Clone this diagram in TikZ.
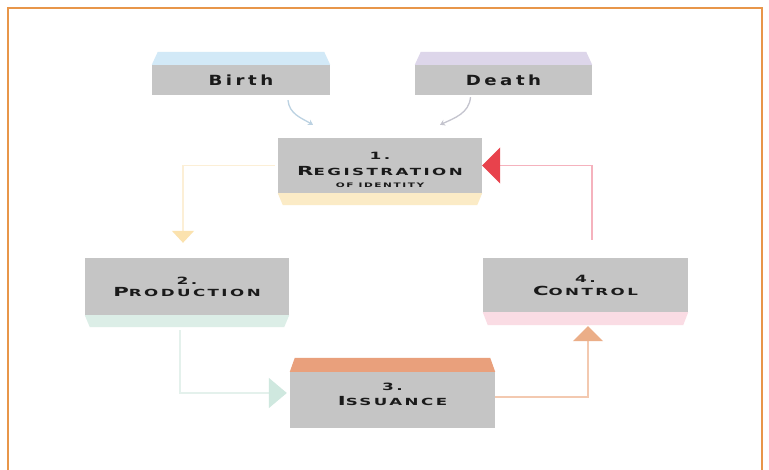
\documentclass[tikz,border=0pt]{standalone}
\usepackage{fontspec}
\setmainfont{DejaVu Sans}
\newfontfamily\cpfont{DejaVu Sans Bold}[FakeStretch=1.7, LetterSpace=25]
\newfontfamily\bdfont{DejaVu Sans Bold}[FakeStretch=1.3, LetterSpace=25]
\usetikzlibrary{arrows.meta,calc}
\definecolor{boxgray}{HTML}{C5C5C5}
\definecolor{txt}{HTML}{1A1A1A}
\definecolor{framec}{HTML}{E8964A}
\definecolor{sblue}{HTML}{D2E9F7}
\definecolor{slav}{HTML}{DDD6EA}
\definecolor{syel}{HTML}{FBEBC6}
\definecolor{sgreen}{HTML}{DCEEE7}
\definecolor{spink}{HTML}{FADCE4}
\definecolor{sorange}{HTML}{E9A07C}
\definecolor{lyel}{HTML}{FCEFD6}
\definecolor{ayel}{HTML}{FBE2AE}
\definecolor{lgreen}{HTML}{E4F1EC}
\definecolor{agreen}{HTML}{CFE8DF}
\definecolor{lorange}{HTML}{F3C9B0}
\definecolor{aorange}{HTML}{EBAE88}
\definecolor{lpink}{HTML}{F5B2BD}
\definecolor{ared}{HTML}{E8424C}
\definecolor{cblue}{HTML}{BCD2E2}
\definecolor{clav}{HTML}{C4C4CE}
\newcommand\bigc[1]{{\fontsize{12.5}{14}\selectfont #1}}
\newcommand\smc[1]{{\fontsize{9.8}{14}\selectfont #1}}
\newcommand\numl[1]{{\fontsize{10}{12}\selectfont #1}}
\tikzset{
  box/.style={fill=boxgray, inner sep=0pt, align=center, font=\cpfont, text=txt},
  conn/.style={line width=1.3pt},
}
\begin{document}
\begin{tikzpicture}[x=1pt,y=-1pt]
\useasboundingbox (0,0) rectangle (769,470);
\fill[white] (0,0) rectangle (769,470);
\draw[framec, line width=2pt] (8,472) -- (8,8) -- (762,8) -- (762,472);

% boxes
\node[box, minimum width=178pt, minimum height=30pt] (birth) at (241,80) {\bdfont\fontsize{14}{15}\selectfont Birth};
\node[box, minimum width=177pt, minimum height=30pt] (death) at (503.5,80) {\bdfont\fontsize{14}{15}\selectfont Death};
\node[box, minimum width=204pt, minimum height=55pt] (reg) at (380,165.5) {\numl{\strut}\\[-4pt]\numl{1.}\\[4pt]\bigc{R}\smc{EGISTRATION}\\[0pt]{\fontsize{6.2}{8}\selectfont OF IDENTITY}};
\node[box, minimum width=204pt, minimum height=57pt] (prod) at (187,286.5) {\numl{2.}\\\bigc{P}\smc{RODUCTION}};
\node[box, minimum width=205pt, minimum height=54pt] (ctrl) at (585.5,285) {\numl{4.}\\[1pt]\bigc{C}\smc{ONTROL}};
\node[box, minimum width=205pt, minimum height=56pt] (iss) at (392.5,400) {\numl{3.}\\[3pt]\bigc{I}\smc{SSUANCE}\\[-4pt]\strut};

% strips
\fill[sblue] (birth.north west) -- ($(birth.north west)+(6,-13)$) -- ($(birth.north east)+(-6,-13)$) -- (birth.north east) -- cycle;
\fill[slav] (death.north west) -- ($(death.north west)+(6,-13)$) -- ($(death.north east)+(-6,-13)$) -- (death.north east) -- cycle;
\fill[sorange] (iss.north west) -- ($(iss.north west)+(5,-14)$) -- ($(iss.north east)+(-5,-14)$) -- (iss.north east) -- cycle;
\fill[syel] (reg.south west) -- ($(reg.south west)+(5,12)$) -- ($(reg.south east)+(-5,12)$) -- (reg.south east) -- cycle;
\fill[sgreen] (prod.south west) -- ($(prod.south west)+(5,12)$) -- ($(prod.south east)+(-5,12)$) -- (prod.south east) -- cycle;
\fill[spink] (ctrl.south west) -- ($(ctrl.south west)+(5,13)$) -- ($(ctrl.south east)+(-5,13)$) -- (ctrl.south east) -- cycle;

% connectors
\draw[conn, lyel, -{Triangle[width=22pt,length=12pt,color=ayel]}] ($(reg.west)+(-3,0)$) -| ($(prod.north)+(-4,-15)$);
\draw[conn, lgreen, -{Triangle[width=30pt,length=18pt,color=agreen]}] ($(prod.south)+(-7,15)$) |- ($(iss.west)+(-3,-7)$);
\draw[conn, lorange, -{Triangle[width=30pt,length=15pt,color=aorange]}] ($(iss.east)+(0,-3)$) -| ($(ctrl.south)+(2.5,14)$);
\draw[conn, lpink, -{Triangle[width=36pt,length=18pt,color=ared]}] ($(ctrl.north)+(6.5,-18)$) |- (reg.east);
\draw[conn, cblue, -{Stealth[length=5pt,width=6pt]}] ($(birth.south)+(47,5)$) to[out=-85,in=150] ($(reg.north)+(-67,-13)$);
\draw[conn, clav, -{Stealth[length=5pt,width=6pt]}] ($(death.south)+(-33,2)$) to[out=-95,in=25] ($(reg.north)+(60,-13)$);
\end{tikzpicture}
\end{document}
